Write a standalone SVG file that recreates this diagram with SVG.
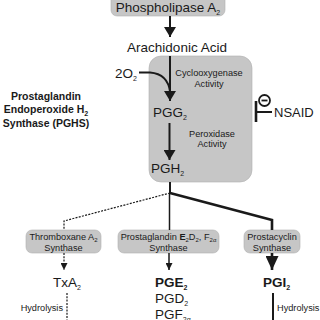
<svg xmlns="http://www.w3.org/2000/svg" width="320" height="320" viewBox="0 0 320 320">
<defs>
<style>
text{font-family:"Liberation Sans",Arial,sans-serif;fill:#1a1a1a}
.box{fill:#c6c6c6;stroke:#b0b0b0;stroke-width:0.6}
.big{font-size:13.5px}
.sm{font-size:9.2px}
.sub{font-size:7px}
.b{font-weight:bold}
.ln{fill:none;stroke:#1a1a1a}
</style>
<marker id="ah" markerUnits="userSpaceOnUse" markerWidth="10" markerHeight="12" refX="10" refY="6" orient="auto" viewBox="0 0 10 12"><path d="M0,0 L10,6 L0,12 z" fill="#1a1a1a"/></marker>
<marker id="ahs" markerUnits="userSpaceOnUse" markerWidth="7" markerHeight="7" refX="7" refY="3.5" orient="auto" viewBox="0 0 7 7"><path d="M0,0 L7,3.5 L0,7 z" fill="#1a1a1a"/></marker>
<marker id="ahb" markerUnits="userSpaceOnUse" markerWidth="14" markerHeight="13" refX="14" refY="6.5" orient="auto" viewBox="0 0 14 13"><path d="M0,0 L14,6.5 L0,13 z" fill="#1a1a1a"/></marker>
</defs>

<g id="pla2">
<rect class="box" x="111" y="-6" width="114" height="22" rx="6"/>
<text class="big" x="168" y="12" text-anchor="middle">Phospholipase A<tspan class="sub" dy="3">2</tspan></text>
</g>

<g id="aa">
<text class="big" x="177" y="52" text-anchor="middle">Arachidonic Acid</text>
</g>

<g id="pghs">
<rect class="box" x="149" y="56" width="103" height="126" rx="12"/>
<text class="sm" x="209" y="76" text-anchor="middle">Cyclooxygenase</text>
<text class="sm" x="209" y="86.5" text-anchor="middle">Activity</text>
<text class="sm" x="212" y="136.5" text-anchor="middle">Peroxidase</text>
<text class="sm" x="212" y="147" text-anchor="middle">Activity</text>
</g>

<g id="o2">
<text class="big" x="115" y="78">2O<tspan class="sub" dy="3">2</tspan></text>
</g>

<g id="pgg2">
<text class="big" x="153" y="117">PGG<tspan class="sub" dy="3">2</tspan></text>
</g>

<g id="pgh2">
<text class="big" x="151" y="173">PGH<tspan class="sub" dy="3">2</tspan></text>
</g>

<g id="pghs-label">
<text class="b" font-size="10.5" x="46" y="99.5" text-anchor="middle">Prostaglandin</text>
<text class="b" font-size="10.5" x="46" y="113" text-anchor="middle">Endoperoxide H<tspan class="sub" dy="2.5">2</tspan></text>
<text class="b" font-size="10.5" x="46" y="127" text-anchor="middle">Synthase (PGHS)</text>
</g>

<g id="nsaid">
<circle cx="264.5" cy="100.5" r="5.5" fill="none" stroke="#1a1a1a" stroke-width="1.8"/>
<line x1="261.5" y1="100.5" x2="267.5" y2="100.5" stroke="#1a1a1a" stroke-width="1.8"/>
<text font-size="13" x="274" y="117">NSAID</text>
</g>

<g id="txas">
<rect class="box" x="26" y="230" width="75" height="23" rx="6"/>
<text class="sm" x="63.5" y="240" text-anchor="middle">Thromboxane A<tspan font-size="6" dy="2">2</tspan></text>
<text class="sm" x="63.5" y="250.5" text-anchor="middle">Synthase</text>
</g>

<g id="pgs">
<rect class="box" x="118" y="230" width="101" height="23" rx="6"/>
<text class="sm" x="168.5" y="240" text-anchor="middle">Prostaglandin <tspan class="b">E</tspan><tspan font-size="6" dy="2">2</tspan><tspan dy="-2">D</tspan><tspan font-size="6" dy="2">2</tspan><tspan dy="-2">, F</tspan><tspan font-size="6" dy="2">2α</tspan></text>
<text class="sm" x="168.5" y="250.5" text-anchor="middle">Synthase</text>
</g>

<g id="pgis">
<rect class="box" x="244" y="230" width="56" height="23" rx="6"/>
<text class="sm" x="272" y="240" text-anchor="middle">Prostacyclin</text>
<text class="sm" x="272" y="250.5" text-anchor="middle">Synthase</text>
</g>

<g id="txa2">
<text class="big" x="53" y="286.5">TxA<tspan class="sub" dy="3">2</tspan></text>
</g>

<g id="pge2">
<text class="big b" x="155" y="286.5">PGE<tspan class="sub" dy="3">2</tspan></text>
<text class="big" x="155" y="302.5">PGD<tspan class="sub" dy="3">2</tspan></text>
<text class="big" x="155" y="318.5">PGF<tspan class="sub" dy="3">2α</tspan></text>
</g>

<g id="pgi2">
<text class="big b" x="263" y="286.5">PGI<tspan class="sub" dy="3">2</tspan></text>
</g>

<g id="hyd-left">
<text class="sm" x="63" y="311" text-anchor="end">Hydrolysis</text>
</g>

<g id="hyd-right">
<text class="sm" x="277" y="311">Hydrolysis</text>
</g>

<g id="connectors">
<line class="ln" x1="170" y1="16" x2="170" y2="37" stroke-width="2" marker-end="url(#ah)"/>
<line class="ln" x1="170" y1="56" x2="170" y2="101" stroke-width="2" marker-end="url(#ah)"/>
<path class="ln" d="M139,72.5 L150,72.5 Q168,74 170,92" stroke-width="1.8"/>
<line class="ln" x1="169.5" y1="123" x2="169.5" y2="160" stroke-width="2" marker-end="url(#ah)"/>
<line class="ln" x1="256" y1="101" x2="256" y2="122" stroke-width="2.6"/>
<line class="ln" x1="256" y1="112" x2="272" y2="112" stroke-width="2"/>
<line class="ln" x1="170" y1="182" x2="170" y2="193" stroke-width="2"/>
<line class="ln" x1="169.5" y1="193" x2="169.5" y2="230" stroke-width="1.5"/>
<polyline class="ln" points="170,193 272,220 272,230" stroke-width="2.6"/>
<polyline class="ln" points="170,193 64,221 64,230" stroke-width="1.2" stroke-dasharray="2,1.3"/>
<line class="ln" x1="64" y1="253" x2="64" y2="270" stroke-width="1.2" stroke-dasharray="2,1.3" marker-end="url(#ahs)"/>
<line class="ln" x1="169" y1="253" x2="169" y2="270" stroke-width="1.5" marker-end="url(#ahs)"/>
<line class="ln" x1="272" y1="253" x2="272" y2="270" stroke-width="2.6" marker-end="url(#ahb)"/>
<line class="ln" x1="67" y1="293" x2="67" y2="320" stroke-width="1.2" stroke-dasharray="2,1.3"/>
<line class="ln" x1="273" y1="293" x2="273" y2="320" stroke-width="2"/>
</g>
</svg>
